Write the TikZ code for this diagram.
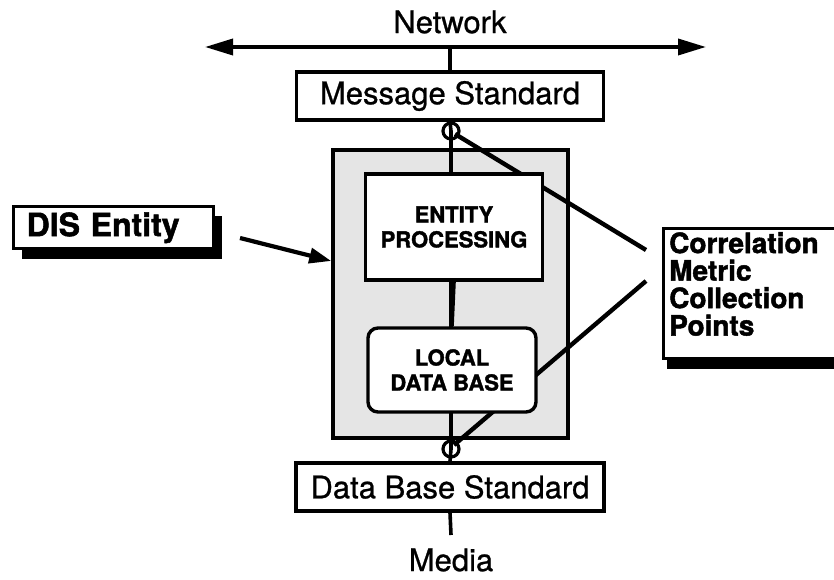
\documentclass[tikz,border=0pt]{standalone}
\usepackage{fontspec}
\setmainfont{TeX Gyre Heros}
\newfontfamily\heavyfont[FakeBold=1.6]{TeX Gyre Heros Bold}
\newfontfamily\midfont[FakeBold=0.8]{TeX Gyre Heros}
\usetikzlibrary{arrows.meta}
\begin{document}
\begin{tikzpicture}[x=1pt,y=-1pt,
  plainbox/.style={draw,line width=3.4pt,fill=white,inner sep=0pt},
  bigtxt/.style={font=\fontsize{31}{33}\selectfont\midfont},
  heavy/.style={line width=4.4pt},
  conn/.style={line width=3.6pt},
  shad/.style={fill=black}]
\useasboundingbox (0,0) rectangle (834,580);
% network
\node[bigtxt] (net) at (450,22) {Network};
\coordinate (netL) at (205,47);
\coordinate (netR) at (706,47);
\coordinate (netJ) at (450,47);
\draw[line width=3.6pt,{Triangle[length=28pt,width=16pt]}-{Triangle[length=28pt,width=16pt]}] (netL) -- (netR);
% outer shaded box
\node[draw,line width=3.4pt,fill=gray!20,minimum width=235pt,minimum height=288pt,inner sep=0pt] (outer) at (450.5,294) {};
% message standard
\node[plainbox,minimum width=307pt,minimum height=48pt,bigtxt] (msg) at (450,96) {Message Standard};
\node[plainbox,minimum width=308pt,minimum height=48pt,bigtxt] (dbs) at (450,487) {Data Base Standard};
% coordinates
\coordinate (ctop) at (451,131);
\coordinate (cbot) at (451,449);
\coordinate (corrA) at (646,250);
\coordinate (corrB) at (646,281);
\coordinate (media) at (451,535);
% vertical lines
\draw[conn] (netJ) -- (msg.north);
\draw[conn] (msg.south) -- (ctop) -- (451,330);
\draw[conn] (451,400) -- (cbot) -- (dbs.north);
\draw[conn] (dbs.south) -- (media);
% diagonal lines to correlation points
\draw[heavy] (ctop) ++(4,3) -- (corrA);
\draw[heavy] (cbot) ++(3,-4) -- (corrB);
% inner boxes
\node[plainbox,minimum width=177pt,minimum height=106pt,align=center,
  font=\fontsize{22}{25}\selectfont\heavyfont] (ent) at (454,227) {ENTITY\\PROCESSING};
\node[plainbox,rounded corners=10pt,minimum width=168pt,minimum height=84pt,align=center,
  font=\fontsize{22}{25}\selectfont\heavyfont] (ldb) at (452,370) {LOCAL\\DATA BASE};
\draw[conn] (ent.south) -- (ldb.north);
% circles
\node[draw,circle,line width=3.2pt,minimum size=16pt,inner sep=0pt] (c1) at (ctop) {};
\node[draw,circle,line width=3.2pt,minimum size=16pt,inner sep=0pt] (c2) at (cbot) {};
% media label
\node[bigtxt] (medialbl) at (451,560) {Media};
% DIS entity
\fill[shad] (22,216) rectangle (222,259);
\node[plainbox,minimum width=200pt,minimum height=42pt,anchor=north west,text width=190pt,
  font=\fontsize{32}{35}\selectfont\heavyfont,align=left] (dis) at (12,205) {\hspace*{8pt}DIS Entity};
\coordinate (disA) at (240,238);
\draw[line width=4.2pt,-{Triangle[length=22pt,width=15pt]}] (disA) -- (outer.west |- 0,261);
% correlation box
\fill[shad] (667,237) rectangle (850,369);
\node[plainbox,minimum width=190pt,minimum height=130pt,anchor=north west] (corr) at (662,227) {};
\node[anchor=north west,align=left,inner sep=0pt,
  font=\fontsize{28}{27.5}\selectfont\heavyfont] (corrtxt) at (669,232) {Correlation\\Metric\\Collection\\Points};
\end{tikzpicture}
\end{document}
